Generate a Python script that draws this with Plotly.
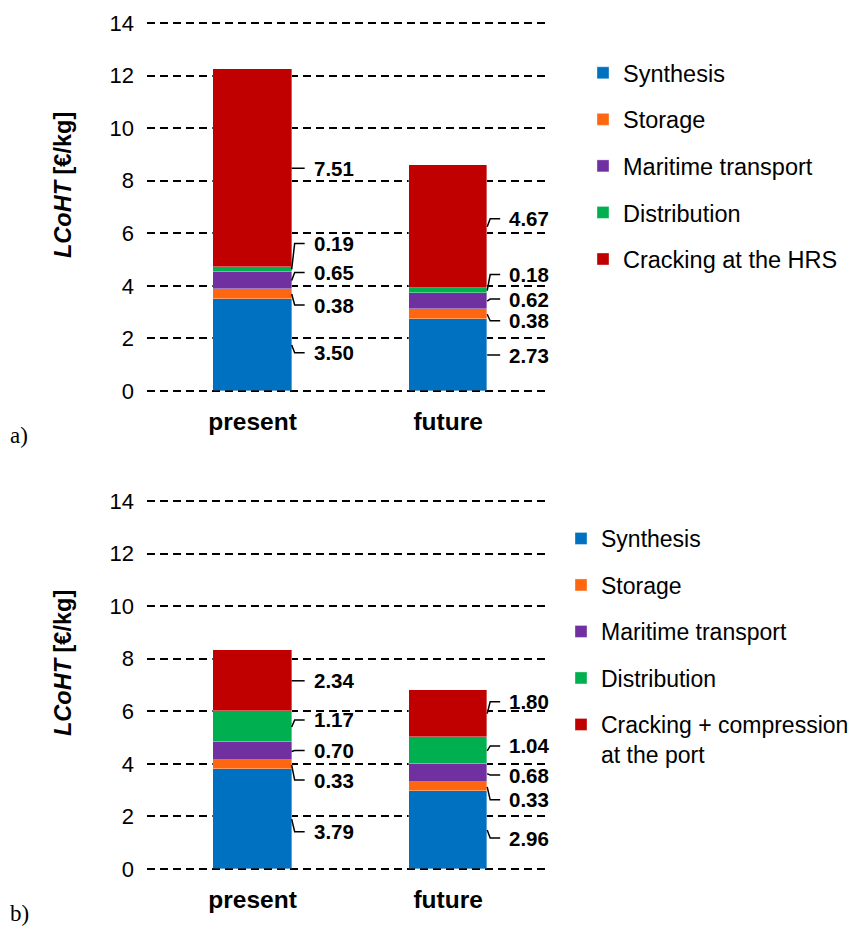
import plotly.graph_objects as go

# ---------------- data ----------------
CATEGORIES = ["present", "future"]
SERIES_A = ["Synthesis", "Storage", "Maritime transport", "Distribution", "Cracking at the HRS"]
SERIES_B = ["Synthesis", "Storage", "Maritime transport", "Distribution",
            "Cracking + compression<br>at the port"]

A_SYNTHESIS = [3.50, 2.73]
A_STORAGE = [0.38, 0.38]
A_MARITIME = [0.65, 0.62]
A_DISTRIBUTION = [0.19, 0.18]
A_CRACKING = [7.51, 4.67]

B_SYNTHESIS = [3.79, 2.96]
B_STORAGE = [0.33, 0.33]
B_MARITIME = [0.70, 0.68]
B_DISTRIBUTION = [1.17, 1.04]
B_CRACKING = [2.34, 1.80]

Y_TICKS = [0, 2, 4, 6, 8, 10, 12, 14]
PANEL_LABELS = ["a)", "b)"]
Y_TITLE = "<b><i>LCoHT</i> [€/kg]</b>"

# ---------------- style ----------------
COLORS = ["#0070C0", "#FF6610", "#7030A0", "#00B050", "#C00000"]
# label nudges in pixels (positive = down) per series, per category
LABEL_NUDGE_A = [[7.7, 0], [11, 6.5], [-8, -2], [-26, -16], [0, -8]]
LABEL_NUDGE_B = [[12.5, 8], [15, 13], [-1, 1.5], [-7, -5], [0, -12]]

OFF = 8                      # page body margin
FW, FH = 858, 926
FONT = "Liberation Sans, Arial, sans-serif"
SERIF = "Liberation Serif, Times New Roman, serif"
BAR_W = 0.4
X_RANGE = [-0.54, 1.506]
X_DOM_PX = [147, 547]
Y_RANGE = [-0.1, 14.1]
PX_PER_UNIT = (391 - 23) / 14.0
PANEL_ZERO_PX = [391, 869]
LEGEND_LEFT_PX = [583, 561]
LEGEND_TOP_PX = [51, 517]
LEGEND_FONT = [23.5, 23]
LEGEND_GAP = [13, 13.6]


def fx(px):
    return (px - OFF) / FW


def fy(px):
    return 1 - (px - OFF) / FH


panels = [
    ([A_SYNTHESIS, A_STORAGE, A_MARITIME, A_DISTRIBUTION, A_CRACKING], SERIES_A, LABEL_NUDGE_A),
    ([B_SYNTHESIS, B_STORAGE, B_MARITIME, B_DISTRIBUTION, B_CRACKING], SERIES_B, LABEL_NUDGE_B),
]

fig = go.Figure()
annotations = []
shapes = []
xpos = list(range(len(CATEGORIES)))
legend_cfg = {}

for p, (series_vals, names, nudges) in enumerate(panels):
    sfx = "" if p == 0 else str(p + 1)
    legend_name = "legend" if p == 0 else "legend2"
    for s, (vals, name) in enumerate(zip(series_vals, names)):
        fig.add_trace(go.Bar(
            x=xpos, y=vals, name=name, width=BAR_W,
            marker=dict(color=COLORS[s], line=dict(width=0.8, color="rgba(255,255,255,0.45)")),
            xaxis="x" + sfx, yaxis="y" + sfx,
            legend=legend_name, legendgroup=f"{p}-{s}",
            hoverinfo="y+name",
        ))
    # value labels with leader lines
    for c in range(len(CATEGORIES)):
        base = 0.0
        for s, vals in enumerate(series_vals):
            v = vals[c]
            mid = base + v / 2.0
            base += v
            off = nudges[s][c]
            edge = xpos[c] + BAR_W / 2
            shapes.append(dict(
                type="path", xref="x" + sfx, yref="y" + sfx,
                xsizemode="pixel", ysizemode="pixel",
                xanchor=edge, yanchor=mid,
                path=f"M0,0 L3,{-off} L13,{-off}",
                line=dict(color="black", width=1.5),
            ))
            annotations.append(dict(
                x=edge, y=mid, xref="x" + sfx, yref="y" + sfx,
                text=f"<b>{v:.2f}</b>", showarrow=False,
                xanchor="left", yanchor="middle",
                xshift=20, yshift=-off,
                font=dict(family=FONT, size=20.5, color="black"),
            ))

    zero_px = PANEL_ZERO_PX[p]
    top_px = zero_px - Y_RANGE[1] * PX_PER_UNIT
    bot_px = zero_px - Y_RANGE[0] * PX_PER_UNIT
    fig.update_layout(**{
        "xaxis" + sfx: dict(
            domain=[fx(X_DOM_PX[0]), fx(X_DOM_PX[1])], range=X_RANGE,
            anchor="y" + sfx, tickvals=xpos, ticktext=CATEGORIES,
            tickfont=dict(family=FONT, size=24.5, color="black", weight="bold"),
            showgrid=False, zeroline=False, showline=False, ticks="",
            ticklabelstandoff=11, fixedrange=True, automargin=False,
        ),
        "yaxis" + sfx: dict(
            domain=[fy(bot_px), fy(top_px)], range=Y_RANGE,
            anchor="x" + sfx, tickvals=Y_TICKS,
            tickfont=dict(family=FONT, size=22, color="black"),
            showgrid=True, gridcolor="black", gridwidth=1.5, griddash="8px,5px",
            zeroline=False, showline=False, ticks="", ticklabelstandoff=12,
            fixedrange=True, automargin=False,
        ),
    })
    # dashed baseline drawn over the bars
    shapes.append(dict(
        type="line", xref="x" + sfx + " domain", yref="y" + sfx,
        x0=0, x1=1, y0=0, y1=0, layer="above",
        line=dict(color="black", width=1.5, dash="8px,5px"),
    ))
    # axis title
    annotations.append(dict(
        x=fx(63), y=fy(zero_px - 206), xref="paper", yref="paper",
        text=Y_TITLE, textangle=-90, showarrow=False,
        xanchor="center", yanchor="middle",
        font=dict(family=FONT, size=23.5, color="black"),
    ))
    annotations.append(dict(
        x=fx(8), y=fy(zero_px + 44), xref="paper", yref="paper",
        text=PANEL_LABELS[p], showarrow=False, xanchor="left", yanchor="middle",
        font=dict(family=SERIF, size=23, color="black"),
    ))
    legend_cfg[legend_name] = dict(
        x=fx(LEGEND_LEFT_PX[p]), y=fy(LEGEND_TOP_PX[p]),
        xanchor="left", yanchor="top",
        font=dict(family=FONT, size=LEGEND_FONT[p], color="black"),
        traceorder="grouped", tracegroupgap=LEGEND_GAP[p], bgcolor="rgba(0,0,0,0)",
        borderwidth=0, valign="top", itemclick=False, itemdoubleclick=False,
    )

fig.update_layout(
    width=FW, height=FH,
    margin=dict(l=0, r=0, t=0, b=0, pad=0, autoexpand=False),
    paper_bgcolor="white", plot_bgcolor="white",
    barmode="stack", bargap=0,
    showlegend=True,
    annotations=annotations,
    shapes=shapes,
    font=dict(family=FONT, color="black"),
    **legend_cfg,
)

fig.write_html("out.html")
